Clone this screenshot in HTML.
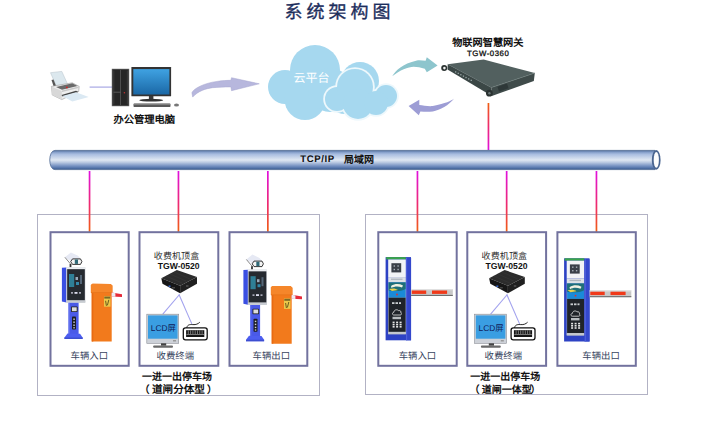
<!DOCTYPE html>
<html lang="zh-CN"><head><meta charset="utf-8">
<style>
html,body{margin:0;padding:0;background:#fff;width:723px;height:439px;overflow:hidden}
svg{position:absolute;left:0;top:0;display:block}
text{font-family:"Liberation Sans",sans-serif}
.t{font-family:"Liberation Serif",serif}
</style></head><body>
<svg width="723" height="439" viewBox="0 0 723 439" text-rendering="geometricPrecision">
<defs>
  <linearGradient id="pipeG" x1="0" y1="0" x2="0" y2="1">
    <stop offset="0" stop-color="#4a6590"/>
    <stop offset="0.08" stop-color="#7f9ac6"/>
    <stop offset="0.2" stop-color="#a9bde0"/>
    <stop offset="0.5" stop-color="#e0e8f2"/>
    <stop offset="0.62" stop-color="#bccbe2"/>
    <stop offset="0.8" stop-color="#7a95c4"/>
    <stop offset="0.92" stop-color="#5273a8"/>
    <stop offset="1" stop-color="#3b5a8a"/>
  </linearGradient>
  <linearGradient id="wireG" x1="0" y1="0" x2="0" y2="1">
    <stop offset="0" stop-color="#e010e0"/>
    <stop offset="0.55" stop-color="#ee2a70"/>
    <stop offset="1" stop-color="#f06010"/>
  </linearGradient>
  <linearGradient id="wireG2" x1="0" y1="0" x2="0" y2="1">
    <stop offset="0" stop-color="#f06010"/>
    <stop offset="0.5" stop-color="#ee2a70"/>
    <stop offset="1" stop-color="#e010e0"/>
  </linearGradient>
  <linearGradient id="scrG" x1="0" y1="0" x2="0" y2="1">
    <stop offset="0" stop-color="#3fa2e2"/>
    <stop offset="1" stop-color="#1b68a6"/>
  </linearGradient>
</defs>

<!-- title -->
<text class="t" x="284.6" y="18.2" font-size="18" fill="#1c2d5c" stroke="#1c2d5c" stroke-width="0.35" letter-spacing="4" style="font-family:'Liberation Serif',serif">系统架构图</text>

<!-- printer -->
<g>
  <polygon points="50.5,72.7 61.8,71.4 68.2,85.5 57.3,88.2" fill="#dce8ee" stroke="#b4c0c8" stroke-width="0.5"/>
  <polygon points="51.5,80 53.5,79.5 56.5,87 54,87.5" fill="#555"/>
  <polygon points="51.4,86.4 72.3,82.8 79.2,86.4 78.7,91.4 61.8,99.6 52.3,95" fill="#eeeeee" stroke="#9a9a9a" stroke-width="0.6"/>
  <polygon points="51.4,86.4 61.8,91 61.8,99.6 52.3,95" fill="#d8d8d8"/>
  <polygon points="56,87 72.3,83.3 77.5,86 62,89.8" fill="#6a6a6a"/>
  <polygon points="62,90.6 78.5,86.6 78.7,88 62,92" fill="#c8c8c8"/>
  <circle cx="66.9" cy="87.4" r="0.9" fill="#d82020"/>
  <polygon points="61.5,95 76,90.8 78.5,92 62.5,96.5" fill="#444"/>
  <polygon points="62.3,96 76,92.2 88.7,96.9 72.3,101.4" fill="#dbe9f3"/>
</g>
<line x1="89.6" y1="87.1" x2="112" y2="87.1" stroke="#a8a8e4" stroke-width="1.2"/>

<!-- computer -->
<g>
  <rect x="112.1" y="69.1" width="16.8" height="36.8" fill="#262626" stroke="#555" stroke-width="0.6"/>
  <line x1="120.5" y1="70" x2="120.5" y2="105" stroke="#6a6a6a" stroke-width="0.6"/>
  <line x1="113.8" y1="70.5" x2="113.8" y2="104.5" stroke="#4a4a4a" stroke-width="0.6"/>
  <line x1="127.3" y1="70.5" x2="127.3" y2="104.5" stroke="#4a4a4a" stroke-width="0.6"/>
  <line x1="113.5" y1="92.2" x2="120.5" y2="92.2" stroke="#7a7a7a" stroke-width="0.6"/>
  <circle cx="124.4" cy="92.8" r="0.8" fill="#c03030"/>
  <rect x="131.4" y="67.1" width="39.7" height="29.1" fill="#333" rx="0.5"/>
  <rect x="133.3" y="69.1" width="36.1" height="25.4" fill="url(#scrG)"/>
  <rect x="148.9" y="96" width="4.5" height="3.6" fill="#3a3a3a"/>
  <ellipse cx="151.2" cy="100.2" rx="12" ry="1.4" fill="#333"/>
  <rect x="133.5" y="103.6" width="37" height="3.4" fill="#5a5a5a" rx="0.8"/>
  <rect x="134" y="103.8" width="36" height="1" fill="#8a8a8a"/>
  <ellipse cx="176.5" cy="105" rx="2.5" ry="1.5" fill="#777"/>
</g>
<text x="113.4" y="122.8" font-size="10.3" font-weight="bold" fill="#111">办公管理电脑</text>

<!-- left arrow -->
<path d="M192.7,97.1 L191.9,92.7 C194,88 205,83 217,81.4 C222,80.6 227,80.4 230.9,80.3 L231.5,77.7 L259.3,83.8 L231.5,90.7 L230.9,86.9 C224,86.9 218,87.2 212.7,87.7 C206,88.5 198,91 192.7,97.1 Z" fill="#b7b7dd" stroke="#a5a5cf" stroke-width="0.5"/>

<!-- cloud -->
<g fill="#a6d8ef">
  <circle cx="315" cy="70" r="25"/>
  <circle cx="285" cy="87" r="17"/>
  <circle cx="305" cy="99.5" r="20.5"/>
  <circle cx="360" cy="81" r="19"/>
  <circle cx="330" cy="90" r="22"/>
  <circle cx="345" cy="96" r="18"/>
</g>
<g fill="#eef8fc">
  <circle cx="337" cy="99" r="13.8"/>
  <circle cx="355" cy="87" r="19.8"/>
  <circle cx="386" cy="96" r="12.8"/>
  <circle cx="358" cy="104" r="16.8"/>
  <circle cx="376" cy="103" r="13.8"/>
</g>
<g fill="#a6d8ef">
  <circle cx="337" cy="99" r="12"/>
  <circle cx="355" cy="87" r="18"/>
  <circle cx="386" cy="96" r="11"/>
  <circle cx="358" cy="104" r="15"/>
  <circle cx="376" cy="103" r="12"/>
</g>
<text x="293.5" y="81.6" font-size="12" fill="#fff">云平台</text>

<!-- teal arrow -->
<path d="M392.2,76.3 C396,70 402,64 416.9,60.4 C420,60 423,60.5 425.6,60.8 L426.8,57.2 L437.6,65.6 L426.8,72.3 L424.8,68.8 C421,67.5 417,66.7 413.7,66.7 C408,67 400,70 392.2,76.3 Z" fill="#8dc5cd"/>
<!-- purple arrow -->
<path d="M454.3,98.6 C451,101 446,103.5 432.8,106.1 C428,106.5 423,105.5 419.3,105 L419.3,99.7 L408.6,106.1 L418.8,115.3 L420.4,111.4 C425,111.8 429,111.8 432.8,111.4 C440,110.5 449,105 454.3,98.6 Z" fill="#9d9dd5"/>

<!-- gateway label -->
<text x="452.2" y="46.2" font-size="10.2" font-weight="bold" fill="#111">物联网智慧网关</text>
<text x="467" y="55.8" font-size="7.8" fill="#111" stroke="#111" stroke-width="0.3" letter-spacing="0.55">TGW-0360</text>

<!-- server -->
<g>
  <polygon points="447.7,64.2 483.6,59.6 534.8,73 491.3,87.5" fill="#52605f"/>
  <polygon points="447.7,64.2 491.3,87.5 491.8,96 447.5,69.5" fill="#3b4746"/>
  <polygon points="491.3,87.5 534.8,73 533.8,81 491.8,96" fill="#3f4b4a"/>
  <line x1="491.3" y1="87.5" x2="534.8" y2="73" stroke="#6f7d7c" stroke-width="0.6"/>
  <line x1="447.7" y1="64.2" x2="491.3" y2="87.5" stroke="#5f6d6c" stroke-width="0.5"/>
  <rect x="498" y="85" width="10" height="5" fill="#2e3838" transform="rotate(-18 503 87.5)"/>
  <circle cx="444.2" cy="68.1" r="3" fill="#2a3231"/>
  <circle cx="444.4" cy="68.1" r="1.3" fill="#f4f4f4"/>
  <circle cx="489.4" cy="93.2" r="3.4" fill="#2a3231"/>
  <circle cx="489.4" cy="93.2" r="1.2" fill="#6a7676"/>
  
  <g fill="#9aa8a8">
    <rect x="455" y="71.3" width="1.3" height="1.3"/><rect x="457.6" y="72.7" width="1.3" height="1.3"/>
    <rect x="460.2" y="74.1" width="1.3" height="1.3"/><rect x="462.8" y="75.5" width="1.3" height="1.3"/>
    <rect x="465.4" y="76.9" width="1.3" height="1.3"/><rect x="468" y="78.3" width="1.3" height="1.3"/>
    <rect x="470.6" y="79.7" width="1.3" height="1.3"/>
  </g>
</g>
<rect x="487.6" y="103" width="1.7" height="47" fill="url(#wireG2)"/>

<!-- pipe -->
<path d="M655,150.4 L55,150.4 C48,150.4 48,169.6 55,169.6 L655,169.6 Z" fill="url(#pipeG)" stroke="#4f6a94" stroke-width="0.8"/>
<ellipse cx="656.2" cy="159.9" rx="4.4" ry="9.8" fill="#4a6590"/>
<ellipse cx="656.3" cy="159.9" rx="2.6" ry="7.9" fill="#fdfdfd"/>
<text x="300.2" y="162.2" font-size="9.6" font-weight="bold" fill="#111" letter-spacing="0.6">TCP/IP</text>
<text x="343.9" y="163" font-size="10" font-weight="bold" fill="#111">局域网</text>

<!-- outer boxes -->
<rect x="37.5" y="214.5" width="282" height="181" fill="none" stroke="#b2b2c4" stroke-width="1"/>
<rect x="365.5" y="214.5" width="282" height="180" fill="none" stroke="#b2b2c4" stroke-width="1"/>

<!-- wires -->
<g fill="url(#wireG)">
  <rect x="88.7" y="171" width="1.7" height="61"/>
  <rect x="177.6" y="171" width="1.7" height="61"/>
  <rect x="267" y="171" width="1.7" height="61"/>
  <rect x="416.6" y="171" width="1.7" height="61"/>
  <rect x="505.8" y="171" width="1.7" height="61"/>
  <rect x="595.6" y="171" width="1.7" height="61"/>
</g>

<!-- inner boxes -->
<g fill="none" stroke="#72729e" stroke-width="2">
  <rect x="50.5" y="232.2" width="78.2" height="133.6"/>
  <rect x="139.5" y="232.2" width="78.8" height="133.6"/>
  <rect x="229.5" y="232.2" width="77.8" height="133.6"/>
  <rect x="378.3" y="232.2" width="78.4" height="133.6"/>
  <rect x="467.3" y="232.2" width="78.8" height="133.6"/>
  <rect x="557.4" y="232.2" width="78.4" height="133.6"/>
</g>

<!-- box labels -->
<g font-size="9.4" fill="#384560">
  <text x="70.5" y="359">车辆入口</text>
  <text x="156.5" y="359">收费终端</text>
  <text x="252.5" y="359.3">车辆出口</text>
  <text x="398.7" y="359">车辆入口</text>
  <text x="484.5" y="359">收费终端</text>
  <text x="582.3" y="359.3">车辆出口</text>
</g>
<g font-size="10" font-weight="bold" fill="#111">
  <text x="142" y="380.2">一进一出停车场</text>
  <text x="139.4" y="392.6">（</text><text x="152" y="392.8" font-size="10.6">道闸分体型</text>
  <text x="207" y="392.6">）</text>
  <text x="470.2" y="380.2">一进一出停车场</text>
  <text x="469.6" y="392.6">（</text><text x="481.8" y="392.6">道闸一体型</text>
  <text x="530.5" y="392.6">）</text>
</g>

<!-- set-top boxes / terminals -->
<g id="term">
  <text x="153.8" y="259.4" font-size="9" fill="#2a2a2a" letter-spacing="0.1">收费机顶盒</text>
  <text x="157.8" y="268.8" font-size="8.6" font-weight="bold" fill="#111" letter-spacing="0">TGW-0520</text>
  <polygon points="161.3,278.2 176.9,270 197,276.9 180.1,285.7" fill="#2c2c2c"/>
  <polygon points="161.3,278.2 180.1,285.7 180.1,293.2 162.5,283.8" fill="#161616"/>
  <polygon points="180.1,285.7 197,276.9 197,283.8 180.1,293.2" fill="#202020"/>
  <g stroke="#3a3a3a" stroke-width="0.5">
    <line x1="166" y1="276" x2="182" y2="283"/><line x1="170" y1="274" x2="186" y2="281"/><line x1="174" y1="272" x2="190" y2="279"/>
  </g>
  <rect x="168.5" y="285.5" width="2" height="1.5" fill="#3a6ad0"/>
  <rect x="172" y="287" width="3" height="1.5" fill="#444"/>
  <rect x="186" y="285" width="2.5" height="2" fill="#444"/>
  <line x1="179.5" y1="294.5" x2="162.8" y2="314.2" stroke="#a2a2ee" stroke-width="1.1"/>
  <line x1="179" y1="294.5" x2="191.8" y2="323.9" stroke="#a2a2ee" stroke-width="1.1"/>
  <rect x="146.8" y="314.2" width="31.9" height="29.1" fill="#cdd1d8" stroke="#8a8e96" stroke-width="0.6"/>
  <rect x="148" y="315.4" width="29.6" height="23.3" fill="#3a9ee2"/>
  <rect x="173" y="340" width="3" height="1.5" fill="#999"/>
  <rect x="161" y="343.3" width="5.2" height="2.4" fill="#444"/>
  <rect x="153.1" y="345.5" width="19.9" height="2.3" rx="1" fill="#6a6a6a"/>
  <text x="150.8" y="331.3" font-size="8.4" fill="#10205a">LCD屏</text>
  <path d="M186.7,327.8 C187.5,324 191,324.5 193,324.6 C196,324.8 198,324 199.8,322.2" fill="none" stroke="#111" stroke-width="0.9"/>
  <rect x="183.3" y="327.9" width="23.9" height="11.9" rx="2.2" fill="#fff" stroke="#111" stroke-width="1.3"/>
  <rect x="186.1" y="330.2" width="18.2" height="6.8" fill="#151515"/>
  <g stroke="#ddd" stroke-width="0.5">
    <line x1="188.3" y1="330.5" x2="188.3" y2="334"/><line x1="190.6" y1="330.5" x2="190.6" y2="334"/>
    <line x1="192.9" y1="330.5" x2="192.9" y2="334"/><line x1="195.2" y1="330.5" x2="195.2" y2="334"/>
    <line x1="197.5" y1="330.5" x2="197.5" y2="334"/><line x1="199.8" y1="330.5" x2="199.8" y2="334"/>
    <line x1="202.1" y1="330.5" x2="202.1" y2="334"/>
    <line x1="186.5" y1="334.5" x2="204" y2="334.5"/>
  </g>
</g>
<!-- split kiosk (left group) -->
<g id="sk">
  <polygon points="64.9,257.3 70.9,252.4 78,255.7 81.3,259.5 72,262" fill="#e6e9f4"/>
  <line x1="64.9" y1="257.3" x2="70.9" y2="264.4" stroke="#555" stroke-width="0.7"/>
  <polygon points="70.7,261.6 72.5,258.9 80.5,258.9 81.9,261.6 80.5,264.4 72.5,264.4" fill="#f4f4f4" stroke="#222" stroke-width="0.9"/>
  <rect x="74.8" y="259.5" width="3.2" height="4.4" fill="#2f6a78"/>
  <rect x="69.6" y="264" width="1.8" height="3.4" fill="#333"/>
<polygon points="61.9,267.8 66.4,267.5 66.4,302.5 61.9,301.5" fill="#3a4fe2"/>
  <rect x="66.4" y="267.4" width="18.9" height="35" fill="#c4c8ce"/>
  <rect x="66.4" y="267.4" width="18.9" height="1.8" fill="#eceef2"/>
  <rect x="67.2" y="269.2" width="17.6" height="31.2" fill="#262a30"/>
  <rect x="69" y="274" width="5.2" height="13" fill="#2f7f96"/>
  <rect x="75.5" y="277" width="2.5" height="3" fill="#9ab"/>
  <rect x="76" y="282" width="3" height="3" fill="#38a"/>
  <rect x="80" y="275" width="2" height="9" fill="#567"/>
  <rect x="71" y="292.3" width="2" height="1.2" fill="#dde"/><rect x="74.5" y="292" width="3" height="1.8" fill="#dde"/><rect x="79" y="292.3" width="2" height="1.2" fill="#dde"/>
  <rect x="66.4" y="300.4" width="18.9" height="2.4" fill="#c8ccd2"/>
  <rect x="68.5" y="302.8" width="10.1" height="32.5" fill="#4a5ae8"/>
  <rect x="68.5" y="302.8" width="1.2" height="32.5" fill="#6a78f0"/>
  <rect x="71" y="306.5" width="6.6" height="5.5" rx="0.8" fill="#222"/>
  <rect x="71.9" y="307.3" width="4.8" height="3.9" fill="#dcdcdc"/>
  <rect x="72" y="316.6" width="4" height="13" rx="0.8" fill="#1c1c22"/>
  <g fill="#cfd3d8">
    <rect x="73.3" y="318.5" width="1.5" height="1.4"/><rect x="73.3" y="321.5" width="1.5" height="1.4"/>
    <rect x="73.3" y="324.5" width="1.5" height="1.4"/><rect x="73.3" y="327.2" width="1.5" height="1.2"/>
  </g>
  <polygon points="67.5,333.6 80,333.8 82.6,337.5 82.6,339.1 64.5,339 64.5,337.6" fill="#4d5ef0"/>
  <polygon points="64.5,337.6 82.6,337.5 82.6,339.1 64.5,339" fill="#3d4ed0"/>
</g>
<!-- orange barrier -->
<g id="ob">
  <polygon points="90.9,285 92.5,283.7 110.5,283.9 112.4,285.5 112.4,292.6 111.7,293.5 111.7,341.5 91.7,341.5 91.7,293.5 90.9,292.6" fill="#f27a1c"/>
  <polygon points="90.9,285 92.5,283.7 110.5,283.9 112.4,285.5 112.4,292.6 90.9,292.6" fill="#f5862a"/>
  <rect x="91.7" y="293" width="1.6" height="48.5" fill="#e86a12"/>
  <rect x="90.9" y="292.2" width="21.5" height="0.8" fill="#e07018" opacity="0.6"/>
  <rect x="104" y="296.3" width="6.5" height="10.4" fill="#ecc84a"/>
  <rect x="104.3" y="296.6" width="5.9" height="2" fill="#7a6a28"/>
  <path d="M105.6,300.8 l0.8,5 M108.8,299.8 l-1.4,5.5" stroke="#5a5018" stroke-width="0.9"/>
  <polygon points="111.7,292.6 122,294.2 122,297 111.7,296.5" fill="#e62a3a"/>
  <polygon points="111.7,292.6 115.4,293.2 115.4,296.7 111.7,296.5" fill="#ececf0"/>
</g>
<use href="#sk" transform="translate(181.5,2.2)"/>
<use href="#ob" transform="translate(180,2.2)"/>

<!-- integrated kiosk (right group) -->
<g id="ik">
  <rect x="385.6" y="257.1" width="25.4" height="83.2" fill="#2d42c4"/>
  <rect x="386.2" y="257.1" width="19.6" height="2.4" fill="#3aa44a"/>
  <rect x="388.2" y="259.5" width="17.6" height="17.6" fill="#f2f4f6"/>
  <rect x="391.4" y="263.2" width="9.8" height="9.2" fill="#3a4048"/>
  <g fill="#a8b0b8"><rect x="393.6" y="265.3" width="1.4" height="1.4"/><rect x="397.4" y="265.3" width="1.4" height="1.4"/><rect x="393.6" y="268.8" width="1.4" height="1.4"/><rect x="397.4" y="268.8" width="1.4" height="1.4"/></g>
  <rect x="388.2" y="277.1" width="17.6" height="5.3" fill="#dde1e6"/>
  <rect x="391" y="278.6" width="11.5" height="1.3" fill="#aeb6be"/>
  <rect x="388.2" y="282.4" width="17.6" height="52" fill="#b8bcc2"/>
  <rect x="388.6" y="282.4" width="17" height="15.3" fill="#1a8ad8"/>
  <path d="M388.6,282.4 L405.6,282.4 L405.6,289 C401,291.5 395,291.5 388.6,290.5 Z" fill="#1f6f78"/>
  <path d="M391,286 C395,283.5 399,283.5 403,285.5 L402,287.5 C398,286 394,286.5 391.5,288 Z" fill="#f0f0e0"/>
  <path d="M389,289 C393,288 396,288.5 398,290 L392,291 Z" fill="#e8d050"/>
  <circle cx="397" cy="294.5" r="0.9" fill="#e03030"/>
  <rect x="388.6" y="297.7" width="17" height="34.2" fill="#1f2329"/>
  <rect x="392" y="302.2" width="2.5" height="1.8" fill="#c8ccd0"/><rect x="395.5" y="302.2" width="2.5" height="1.8" fill="#c8ccd0"/><rect x="399" y="302.2" width="2" height="1.8" fill="#c8ccd0"/>
  <path d="M393.8,315 C392,315 392,312.2 393.9,312.2 C394,309.8 397,309 398.5,310.6 C400.5,310 401.6,312 400.8,313 C402,313.5 401.5,315 400.2,315 Z" fill="none" stroke="#e8e8e8" stroke-width="0.8"/>
  <rect x="392.5" y="316.8" width="8.5" height="2.4" fill="#b8bcc0"/>
  <g fill="#e4e4e4">
    <rect x="392.6" y="321.6" width="2" height="1.6"/><rect x="396.1" y="321.6" width="2" height="1.6"/><rect x="399.6" y="321.6" width="2" height="1.6"/>
    <rect x="392.6" y="323.8" width="2" height="1.6"/><rect x="396.1" y="323.8" width="2" height="1.6"/><rect x="399.6" y="323.8" width="2" height="1.6"/>
    <rect x="392.6" y="326" width="2" height="1.6"/><rect x="396.1" y="326" width="2" height="1.6"/><rect x="399.6" y="326" width="2" height="1.6"/>
  </g>
  <rect x="388.2" y="331.9" width="17.6" height="2.1" fill="#c4c8ce"/>
  <rect x="406" y="258" width="5.1" height="82.3" fill="#3448cc"/>
  <rect x="406.3" y="258" width="0.8" height="82.3" fill="#5a6ae0"/>
  <rect x="411.1" y="289.2" width="41.7" height="6.8" fill="#c8c8c8"/><rect x="411.1" y="289.2" width="41.7" height="1" fill="#e4e4e4"/>
  <rect x="411.1" y="294.9" width="41.7" height="1.1" fill="#6e6e6e"/>
  <rect x="411.8" y="290.5" width="14.4" height="3.4" fill="#f03a1a"/>
  <rect x="432" y="290.5" width="15.1" height="3.4" fill="#f03a1a"/>
</g>
<use href="#ik" transform="translate(178.5,1.2)"/>
<use href="#term" transform="translate(327.8,0)"/>
</svg>
</body></html>
